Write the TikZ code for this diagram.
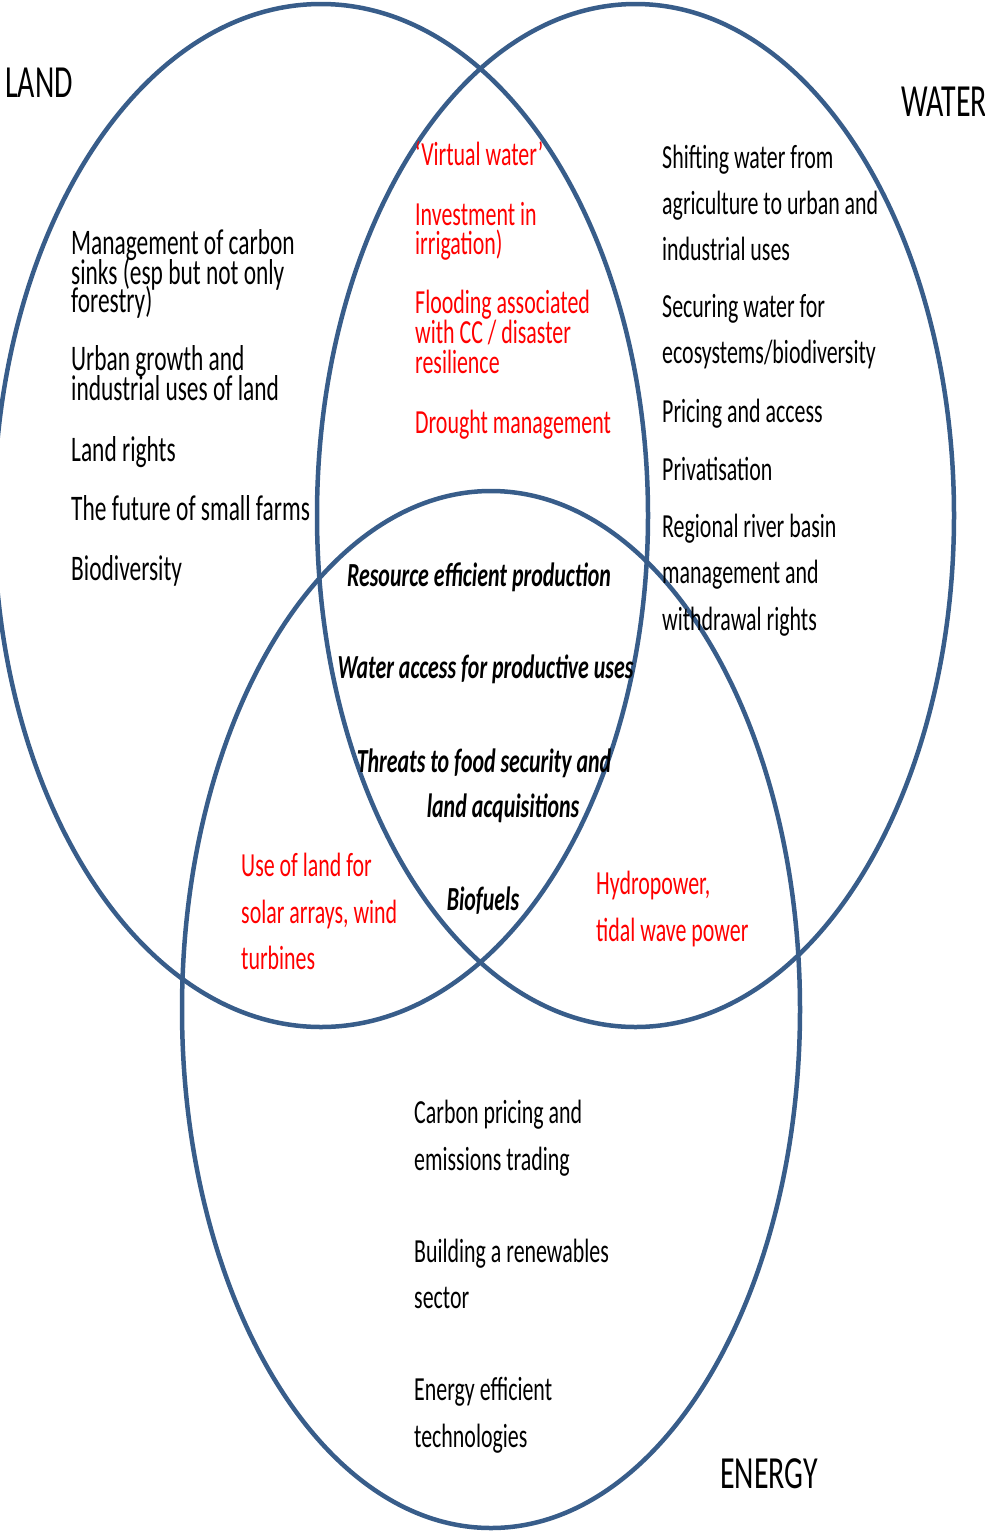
\documentclass[tikz,border=0pt]{standalone}
\usepackage{fontspec}
\setmainfont{Carlito}[FakeStretch=0.65]
\definecolor{vennblue}{RGB}{56,93,138}
\definecolor{vennred}{RGB}{255,0,0}
\begin{document}
\begin{tikzpicture}[x=1pt,y=-1pt,
  ring/.style={draw=vennblue,line width=4.5pt},
  body/.style={inner sep=0pt,font=\fontsize{33.7}{40}\selectfont},
  lft/.style={body,anchor=base west},
  lnd/.style={inner sep=0pt,anchor=base west,font=\fontsize{36}{40}\selectfont},
  ctr/.style={body,anchor=base},
  rd/.style={text=vennred},
  big/.style={inner sep=0pt,anchor=base west,font=\fontsize{46}{50}\selectfont},
  bi/.style={font=\fontsize{33.7}{40}\selectfont\bfseries\itshape}
]
\useasboundingbox (0,0) rectangle (985,1532);
% circles
\draw[ring] (321,515.5) ellipse [x radius=327pt, y radius=511.5pt];
\draw[ring] (635.5,515.5) ellipse [x radius=318.5pt, y radius=511.5pt];
\draw[ring] (491,1009.5) ellipse [x radius=309pt, y radius=518.5pt];
% titles
\node[big] (land) at (5,97) {LAND};
\node[big] (water) at (901,116) {WATER};
\node[big] (energy) at (720,1488) {ENERGY};
% land items
\node[lnd] (l1a) at (71,254) {Management of carbon};
\node[lnd] (l1b) at (71,284) {sinks (esp but not only};
\node[lnd] (l1c) at (71,312) {forestry)};
\node[lnd] (l2a) at (71,370) {Urban growth and};
\node[lnd] (l2b) at (71,400) {industrial uses of land};
\node[lnd] (l3) at (71,461) {Land rights};
\node[lnd] (l4) at (71,520) {The future of small farms};
\node[lnd] (l5) at (71,580) {Biodiversity};
% land-water items
\node[lft,rd] (lw1) at (415,165) {‘Virtual water’};
\node[lft,rd] (lw2a) at (415,225) {Investment in};
\node[lft,rd] (lw2b) at (415,254) {irrigation)};
\node[lft,rd] (lw3a) at (415,313) {Flooding associated};
\node[lft,rd] (lw3b) at (415,343) {with CC / disaster};
\node[lft,rd] (lw3c) at (415,373) {resilience};
\node[lft,rd] (lw4) at (415,433) {Drought management};
% water items
\node[lft] (w1a) at (662,168) {Shifting water from};
\node[lft] (w1b) at (662,214) {agriculture to urban and};
\node[lft] (w1c) at (662,260) {industrial uses};
\node[lft] (w2a) at (662,317) {Securing water for};
\node[lft] (w2b) at (662,363) {ecosystems/biodiversity};
\node[lft] (w3) at (662,422) {Pricing and access};
\node[lft] (w4) at (662,480) {Privatisation};
\node[lft] (w5a) at (662,537) {Regional river basin};
\node[lft] (w5b) at (662,583) {management and};
\node[lft] (w5c) at (662,630) {withdrawal rights};
% centre items
\node[ctr,bi] (c1) at (479,586) {Resource efficient production};
\node[ctr,bi] (c2) at (485.5,678) {Water access for productive uses};
\node[ctr,bi] (c3a) at (484,772) {Threats to food security and};
\node[ctr,bi] (c3b) at (503,817) {land acquisitions};
\node[ctr,bi] (c4) at (483,910) {Biofuels};
% land-energy
\node[lft,rd] (le1) at (241,876) {Use of land for};
\node[lft,rd] (le2) at (241,923) {solar arrays, wind};
\node[lft,rd] (le3) at (241,969) {turbines};
% water-energy
\node[lft,rd] (we1) at (596,894) {Hydropower,};
\node[lft,rd] (we2) at (596,941) {tidal wave power};
% energy items
\node[lft] (e1a) at (414,1123) {Carbon pricing and};
\node[lft] (e1b) at (414,1170) {emissions trading};
\node[lft] (e2a) at (414,1262) {Building a renewables};
\node[lft] (e2b) at (414,1308) {sector};
\node[lft] (e3a) at (414,1400) {Energy efficient};
\node[lft] (e3b) at (414,1447) {technologies};
\end{tikzpicture}
\end{document}
